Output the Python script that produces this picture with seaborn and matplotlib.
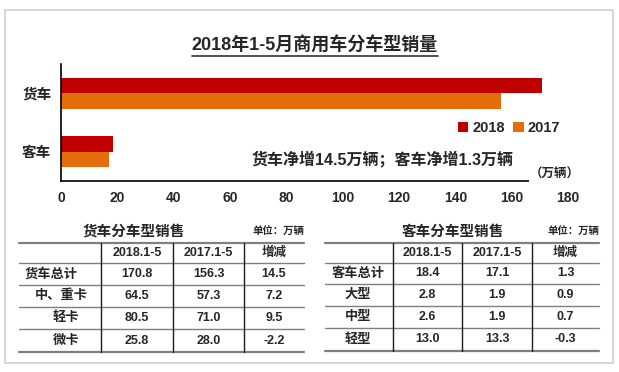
"""2018年1-5月商用车分车型销量: horizontal bar chart plus two summary tables."""

import matplotlib

matplotlib.use("Agg")

import matplotlib.pyplot as plt
import pandas as pd
import seaborn as sns
from matplotlib.lines import Line2D
from matplotlib.patches import Rectangle

# ---- data -----------------------------------------------------------------
categories = ["货车", "客车"]
years = ["2018", "2017"]
sales_2018 = [170.8, 18.4]
sales_2017 = [156.3, 17.1]
x_ticks = [0, 20, 40, 60, 80, 100, 120, 140, 160, 180]

table_header = ["2018.1-5", "2017.1-5", "增减"]
truck_rows = ["货车总计", "中、重卡", "轻卡", "微卡"]
truck_2018 = [170.8, 64.5, 80.5, 25.8]
truck_2017 = [156.3, 57.3, 71.0, 28.0]
truck_diff = [14.5, 7.2, 9.5, -2.2]

bus_rows = ["客车总计", "大型", "中型", "轻型"]
bus_2018 = [18.4, 2.8, 2.6, 13.0]
bus_2017 = [17.1, 1.9, 1.9, 13.3]
bus_diff = [1.3, 0.9, 0.7, -0.3]

COLORS = {"2018": "#C00000", "2017": "#E46C0A"}
W, H = 619, 372

sns.set_style("white")
plt.rcParams["font.family"] = ["Liberation Sans", "Noto Sans CJK SC", "DejaVu Sans"]
plt.rcParams["font.weight"] = "bold"

df = pd.DataFrame(
    {
        "type": categories * 2,
        "year": [years[0]] * 2 + [years[1]] * 2,
        "sales": sales_2018 + sales_2017,
    }
)

fig = plt.figure(figsize=(W / 100, H / 100), dpi=100)

# background axes in pixel coordinates for frame, title and tables
bg = fig.add_axes([0, 0, 1, 1], zorder=-1)
bg.set_xlim(0, W)
bg.set_ylim(H, 0)
bg.axis("off")
bg.add_patch(Rectangle((5, 10), 608, 353, fill=False, edgecolor="#CFCFCF", lw=1.2))

# ---- bar chart -------------------------------------------------------------
ax = fig.add_axes([61 / W, 1 - 181 / H, 507 / W, 117 / H])
ax.set_facecolor("none")
sns.barplot(
    data=df,
    y="type",
    x="sales",
    hue="year",
    hue_order=years,
    order=categories,
    palette=COLORS,
    orient="h",
    width=0.525,
    saturation=1,
    linewidth=0,
    ax=ax,
)
ax.set_xlim(0, 180)
ax.set_ylim(1.5, -0.5)
ax.set_xticks(x_ticks)
ax.set_xticklabels([str(t) for t in x_ticks], fontsize=10, fontweight="bold")
ax.set_yticks(range(len(categories)))
ax.set_yticklabels(categories, fontsize=10.5, fontweight="bold")
ax.set_yticks([-0.5, 0.5, 1.5], minor=True)
ax.tick_params(axis="y", which="major", length=0, pad=7)
ax.tick_params(axis="y", which="minor", direction="in", length=3, width=1, color="black")
ax.tick_params(axis="x", direction="in", length=3, width=1, color="black", pad=7)
ax.set_xlabel("")
ax.set_ylabel("")
for side in ["top", "right"]:
    ax.spines[side].set_visible(False)
for side in ["left", "bottom"]:
    ax.spines[side].set_color("black")
    ax.spines[side].set_linewidth(1.2)

sns.move_legend(
    ax,
    "center",
    bbox_to_anchor=(509 / W, 1 - 128 / H),
    bbox_transform=fig.transFigure,
    ncol=2,
    title=None,
    frameon=False,
    handlelength=0.7,
    handleheight=0.7,
    handletextpad=0.3,
    columnspacing=0.6,
    prop={"weight": "bold", "size": 10.5},
)

fig.text(382 / W, 1 - 159 / H, "货车净增14.5万辆；客车净增1.3万辆",
         ha="center", va="center", fontsize=11.5, fontweight="bold")
fig.text(555 / W, 1 - 175 / H, "（万辆）", ha="center", va="center", fontsize=9,
         fontweight="bold", bbox=dict(facecolor="white", edgecolor="none", pad=1))

title = fig.text(315 / W, 1 - 46 / H, "2018年1-5月商用车分车型销量",
                 ha="center", va="center", fontsize=13, fontweight="bold")


# ---- tables ------------------------------------------------------------------
def draw_table(x_edges, y_edges, name, name_x, rows, label_x, label_ha, col_a, col_b, col_c):
    bg.text(name_x, 232, name, ha="center", va="center", fontsize=10.5, fontweight="bold")
    bg.text(x_edges[-1], 232, "单位：万辆", ha="right", va="center", fontsize=7.5, fontweight="bold")
    for i, y in enumerate(y_edges):
        lw = 1.6 if i in (0, len(y_edges) - 1) else 1.0
        bg.add_line(Line2D([x_edges[0], x_edges[-1]], [y, y], color="#7F7F7F", lw=lw))
    for x in x_edges[1:-1]:
        bg.add_line(Line2D([x, x], [y_edges[0], y_edges[-1]], color="#1A1A1A", lw=1.0))
    centers_x = [(x_edges[j] + x_edges[j + 1]) / 2 for j in range(len(x_edges) - 1)]
    centers_y = [(y_edges[j] + y_edges[j + 1]) / 2 for j in range(len(y_edges) - 1)]
    for j, head in enumerate(table_header):
        bg.text(centers_x[j + 1], centers_y[0], head, ha="center", va="center",
                fontsize=9, fontweight="bold")
    for i, label in enumerate(rows):
        yc = centers_y[i + 1]
        bg.text(label_x[i], yc, label, ha=label_ha, va="center", fontsize=9.5, fontweight="bold")
        for j, vals in enumerate([col_a, col_b, col_c]):
            bg.text(centers_x[j + 1], yc, f"{vals[i]:.1f}", ha="center", va="center",
                    fontsize=9, fontweight="bold")


draw_table([19, 101, 173, 244, 304], [243, 263, 285, 307, 329, 352],
           "货车分车型销售", 134, truck_rows, [25, 35, 53, 53], "left",
           truck_2018, truck_2017, truck_diff)
draw_table([325, 393, 462, 532, 599], [243, 263, 284, 306, 328, 351],
           "客车分车型销售", 453, bus_rows, [358, 358, 358, 358], "center",
           bus_2018, bus_2017, bus_diff)

# underline the title
fig.canvas.draw()
bb = title.get_window_extent().transformed(bg.transData.inverted())
bg.add_line(Line2D([bb.x0, bb.x1], [max(bb.y0, bb.y1) + 1, max(bb.y0, bb.y1) + 1],
                   color="#333333", lw=1.2))

fig.savefig("out.png", dpi=100)
